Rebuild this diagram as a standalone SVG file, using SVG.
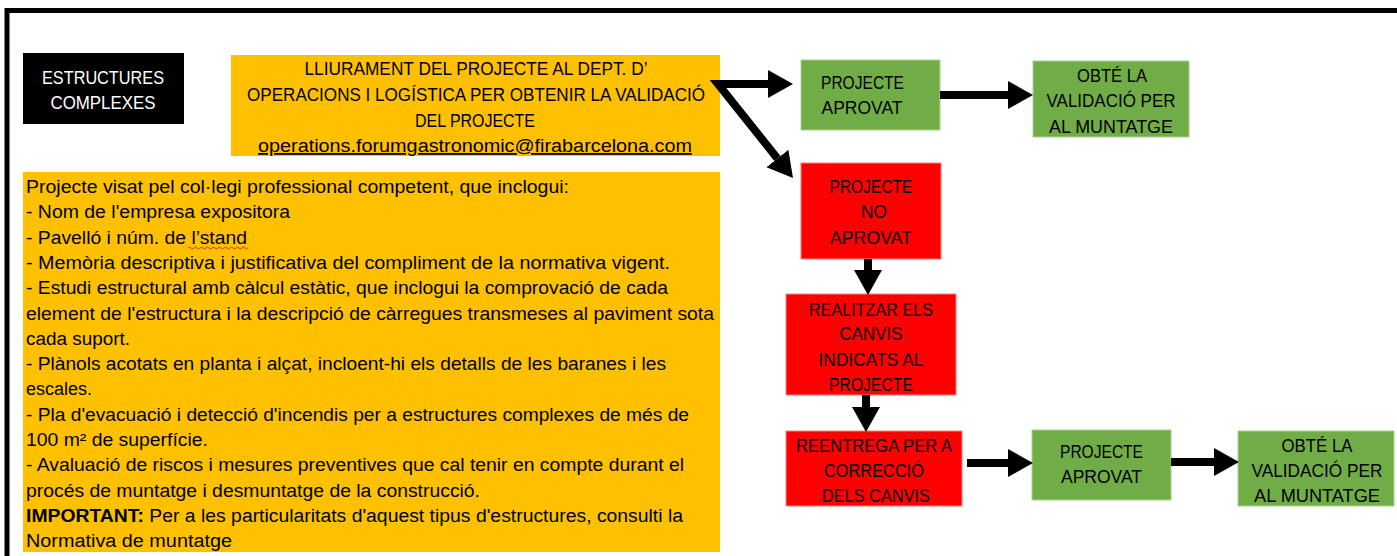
<svg xmlns="http://www.w3.org/2000/svg" width="1397" height="556" viewBox="0 0 1397 556">
<defs>
<style>
.t{font-family:"Liberation Sans",Arial,sans-serif;font-size:18px;fill:#000}
.c{text-anchor:middle}
.w{fill:#fff}
.p{font-family:"Liberation Sans",Arial,sans-serif;font-size:18px;fill:#000}
.or{fill:#FFC000}
.gr{fill:#70AD47;stroke:#A9D18E;stroke-width:1}
.rd{fill:#FF0000;stroke:#FF8080;stroke-width:1}
.con{fill:none;stroke:#000;stroke-width:8;stroke-linejoin:miter}
</style>
<marker id="ah" markerUnits="userSpaceOnUse" markerWidth="26" markerHeight="30" viewBox="0 -15 26 30" refX="0" refY="0" orient="auto-start-reverse">
<path d="M0,-14 L25,0 L0,14 z" fill="#000"/>
</marker>
</defs>
<rect width="1397" height="556" fill="#fff"/>
<path d="M7,556 V10.5 H1397" fill="none" stroke="#000" stroke-width="5"/>

<g id="title">
<rect x="23" y="53" width="161" height="71" fill="#000"/>
<text class="t c w" x="103" y="83.5" textLength="122" lengthAdjust="spacingAndGlyphs">ESTRUCTURES</text>
<text class="t c w" x="103" y="108.5" textLength="105" lengthAdjust="spacingAndGlyphs">COMPLEXES</text>
</g>

<g id="lliurament">
<rect class="or" x="231" y="55" width="489" height="101"/>
<text class="t c" x="476" y="74.5" textLength="343" lengthAdjust="spacingAndGlyphs">LLIURAMENT DEL PROJECTE AL DEPT. D’</text>
<text class="t c" x="476" y="101" textLength="458" lengthAdjust="spacingAndGlyphs">OPERACIONS I LOGÍSTICA PER OBTENIR LA VALIDACIÓ</text>
<text class="t c" x="475" y="126.5" textLength="120" lengthAdjust="spacingAndGlyphs">DEL PROJECTE</text>
<text class="t c" x="475" y="152" textLength="434" lengthAdjust="spacingAndGlyphs" text-decoration="underline">operations.forumgastronomic@firabarcelona.com</text>
</g>

<g id="requisits">
<rect class="or" x="23" y="172" width="697" height="380"/>
<text class="p" x="26" y="193" textLength="543" lengthAdjust="spacingAndGlyphs">Projecte visat pel col·legi professional competent, que inclogui:</text>
<text class="p" x="26" y="218.3" textLength="264" lengthAdjust="spacingAndGlyphs">- Nom de l'empresa expositora</text>
<text class="p" x="26" y="243.6" textLength="221" lengthAdjust="spacingAndGlyphs">- Pavelló i núm. de l’stand</text>
<path d="M188,248 q1.5,-2 3,0 t3,0 t3,0 t3,0 t3,0 t3,0 t3,0 t3,0 t3,0 t3,0 t3,0 t3,0 t3,0 t3,0 t3,0 t3,0 t3,0 t3,0 t3,0 t3,0" fill="none" stroke="#E03030" stroke-width="1"/>
<text class="p" x="26" y="268.9" textLength="644" lengthAdjust="spacingAndGlyphs">- Memòria descriptiva i justificativa del compliment de la normativa vigent.</text>
<text class="p" x="26" y="294.2" textLength="642" lengthAdjust="spacingAndGlyphs">- Estudi estructural amb càlcul estàtic, que inclogui la comprovació de cada</text>
<text class="p" x="26" y="319.5" textLength="688" lengthAdjust="spacingAndGlyphs">element de l'estructura i la descripció de càrregues transmeses al paviment sota</text>
<text class="p" x="26" y="344.8" textLength="104" lengthAdjust="spacingAndGlyphs">cada suport.</text>
<text class="p" x="26" y="370.1" textLength="640" lengthAdjust="spacingAndGlyphs">- Plànols acotats en planta i alçat, incloent-hi els detalls de les baranes i les</text>
<text class="p" x="26" y="395.4" textLength="66" lengthAdjust="spacingAndGlyphs">escales.</text>
<text class="p" x="26" y="420.7" textLength="663" lengthAdjust="spacingAndGlyphs">- Pla d'evacuació i detecció d'incendis per a estructures complexes de més de</text>
<text class="p" x="26" y="446" textLength="182" lengthAdjust="spacingAndGlyphs">100 m² de superfície.</text>
<text class="p" x="26" y="471.3" textLength="658" lengthAdjust="spacingAndGlyphs">- Avaluació de riscos i mesures preventives que cal tenir en compte durant el</text>
<text class="p" x="26" y="496.6" textLength="454" lengthAdjust="spacingAndGlyphs">procés de muntatge i desmuntatge de la construcció.</text>
<text class="p" x="26" y="521.9" textLength="657" lengthAdjust="spacingAndGlyphs"><tspan font-weight="bold">IMPORTANT:</tspan> Per a les particularitats d'aquest tipus d'estructures, consulti la</text>
<text class="p" x="26" y="547.2" textLength="206" lengthAdjust="spacingAndGlyphs">Normativa de muntatge</text>
</g>

<g id="aprovat1">
<rect class="gr" x="801" y="60" width="139" height="70"/>
<text class="t c" x="862.5" y="88.5" textLength="83" lengthAdjust="spacingAndGlyphs">PROJECTE</text>
<text class="t c" x="862" y="113.5" textLength="81" lengthAdjust="spacingAndGlyphs">APROVAT</text>
</g>

<g id="validacio1">
<rect class="gr" x="1033" y="61" width="156" height="76"/>
<text class="t c" x="1112" y="81.5" textLength="70" lengthAdjust="spacingAndGlyphs">OBTÉ LA</text>
<text class="t c" x="1111" y="107" textLength="129" lengthAdjust="spacingAndGlyphs">VALIDACIÓ PER</text>
<text class="t c" x="1111" y="132.5" textLength="124" lengthAdjust="spacingAndGlyphs">AL MUNTATGE</text>
</g>

<g id="noaprovat">
<rect class="rd" x="801" y="163" width="140" height="96"/>
<text class="t c" x="871" y="192.5" textLength="83" lengthAdjust="spacingAndGlyphs">PROJECTE</text>
<text class="t c" x="874" y="218" textLength="26" lengthAdjust="spacingAndGlyphs">NO</text>
<text class="t c" x="871" y="243.5" textLength="82" lengthAdjust="spacingAndGlyphs">APROVAT</text>
</g>

<g id="canvis">
<rect class="rd" x="786" y="294" width="170" height="101"/>
<text class="t c" x="871" y="315.5" textLength="124" lengthAdjust="spacingAndGlyphs">REALITZAR ELS</text>
<text class="t c" x="871" y="340" textLength="63" lengthAdjust="spacingAndGlyphs">CANVIS</text>
<text class="t c" x="871" y="365.5" textLength="105" lengthAdjust="spacingAndGlyphs">INDICATS AL</text>
<text class="t c" x="871" y="390.5" textLength="84" lengthAdjust="spacingAndGlyphs">PROJECTE</text>
</g>

<g id="reentrega">
<rect class="rd" x="786" y="431" width="176" height="75"/>
<text class="t c" x="874" y="452" textLength="156" lengthAdjust="spacingAndGlyphs">REENTREGA PER A</text>
<text class="t c" x="874" y="476.5" textLength="100" lengthAdjust="spacingAndGlyphs">CORRECCIÓ</text>
<text class="t c" x="876" y="502" textLength="108" lengthAdjust="spacingAndGlyphs">DELS CANVIS</text>
</g>

<g id="aprovat2">
<rect class="gr" x="1032" y="430" width="139" height="70"/>
<text class="t c" x="1101.5" y="457.5" textLength="83" lengthAdjust="spacingAndGlyphs">PROJECTE</text>
<text class="t c" x="1101.5" y="483" textLength="81" lengthAdjust="spacingAndGlyphs">APROVAT</text>
</g>

<g id="validacio2">
<rect class="gr" x="1238" y="431" width="156" height="75"/>
<text class="t c" x="1317" y="451.5" textLength="71" lengthAdjust="spacingAndGlyphs">OBTÉ LA</text>
<text class="t c" x="1317" y="476.5" textLength="131" lengthAdjust="spacingAndGlyphs">VALIDACIÓ PER</text>
<text class="t c" x="1317" y="502" textLength="126" lengthAdjust="spacingAndGlyphs">AL MUNTATGE</text>
</g>

<g id="connectors">
<path class="con" d="M777.4,158.5 L718,84 L768,84" marker-start="url(#ah)" marker-end="url(#ah)"/>
<path class="con" d="M940,95 H1008" marker-end="url(#ah)"/>
<path class="con" d="M868,259 V270" marker-end="url(#ah)"/>
<path class="con" d="M866,395 V407" marker-end="url(#ah)"/>
<path class="con" d="M967,463 H1008" marker-end="url(#ah)"/>
<path class="con" d="M1171,462 H1214" marker-end="url(#ah)"/>
</g>
</svg>
